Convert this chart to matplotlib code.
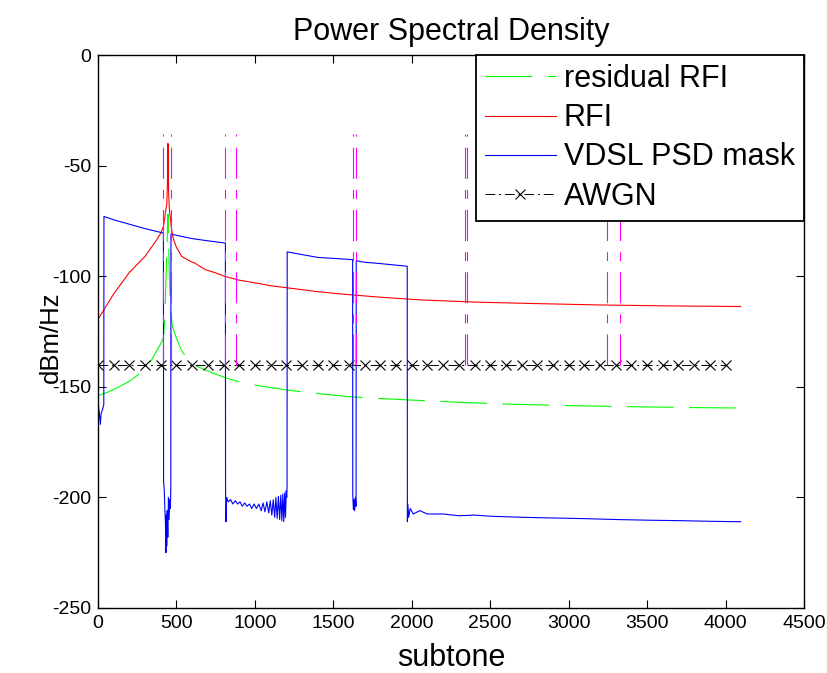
import matplotlib
matplotlib.use('Agg')
import matplotlib.pyplot as plt

plt.rcParams['font.family'] = ['Liberation Sans', 'DejaVu Sans']
plt.rcParams['axes.unicode_minus'] = False

# residual RFI (green)
res_subtone = [0, 60, 119, 200, 257, 300, 342, 380, 400, 417, 425, 432, 438, 442, 446,
               450, 455, 462, 474, 500, 529, 560, 597, 640, 682, 750, 830, 927, 1050,
               1192, 1300, 1479, 1600, 1800, 2000, 2300, 2600, 3000, 3400, 3800, 4096]
res_db = [-154, -152.5, -150.6, -147.5, -144.5, -141.5, -137.8, -133, -130.5, -128,
          -120, -105, -90, -80, -72, -85, -100, -115, -122.7, -128, -133.2, -136.5,
          -139.3, -141, -142.3, -144.3, -146.3, -148.3, -149.8, -151.3, -152.3,
          -153.6, -154.5, -155.3, -156, -157, -157.8, -158.5, -159, -159.4, -159.6]

# RFI (red)
rfi_subtone = [0, 100, 200, 300, 374, 400, 417, 425, 432, 438, 442, 445, 446, 447,
               450, 455, 460, 469, 480, 500, 533, 580, 618, 682, 750, 809, 900, 1000,
               1100, 1224, 1400, 1542, 1800, 2052, 2400, 2800, 3200, 3600, 4096]
rfi_db = [-119.5, -108, -98.3, -91, -83.6, -80.5, -77.5, -74, -70, -68, -60, -48,
          -40, -45, -62, -70, -73, -79, -83, -87, -91, -93, -94.1, -97, -98.5,
          -100.1, -101.8, -103, -104.3, -105.4, -107, -108, -109.5, -110.7, -111.7,
          -112.4, -113, -113.4, -113.7]

# VDSL PSD mask (blue)
mask_subtone = [0, 5, 10, 15, 20, 30, 37, 38, 100, 200, 300, 417,
                418, 422, 426, 430, 433, 435, 438, 441, 445, 449, 453, 457, 461, 464, 465,
                600, 700, 812,
                813, 816, 820, 830, 845, 860, 875, 890, 905, 920, 935, 950, 965, 980,
                995, 1010, 1025, 1040, 1052, 1064, 1076, 1088, 1098, 1108, 1117, 1126,
                1134, 1142, 1150, 1158, 1165, 1172, 1178, 1184, 1190, 1195, 1200, 1203,
                1205, 1206,
                1400, 1623, 1624, 1628, 1632, 1636, 1640, 1645, 1646,
                1700, 1800, 1900, 1971,
                1972, 1975, 1980, 1990, 2010, 2050, 2100, 2200, 2300, 2400, 2500,
                2700, 2900, 3100, 3300, 3500, 3700, 3900, 4096]
mask_db = [-158, -160, -163, -167, -162, -160, -158, -73, -74.5, -76.5, -78.5, -80.5,
           -193, -196, -205, -212, -225, -208, -222, -206, -218, -200, -210, -201, -205, -196, -81,
           -83, -84, -85,
           -196, -211, -200, -202, -201, -203, -201.5, -203, -202, -204, -202.5, -204,
           -203, -205, -203, -205, -203, -206, -202.5, -206.5, -202, -207, -201.5, -208,
           -201, -209, -200, -209.5, -199.5, -210, -199, -210.5, -198.5, -211, -198,
           -209, -197, -200, -195, -89,
           -91.5, -92.5, -199, -205.5, -201, -206, -200, -204, -93,
           -93.7, -94.3, -95, -95.5,
           -211, -203, -209, -205, -207.5, -206, -207.5, -207.5, -208.3, -208, -208.5,
           -209, -209.3, -209.6, -210, -210.3, -210.5, -210.8, -211]

# AWGN (black)
awgn_subtone = list(range(0, 4001, 100))
awgn_db = [-140] * len(awgn_subtone)

# HAM band edges (magenta)
ham_edges = [417, 464, 812, 881, 1623, 1646, 2342, 2354, 3246, 3328]
ham_top, ham_bottom = -35.5, -140

fig = plt.figure(figsize=(8.28, 6.73), dpi=100)
ax = fig.add_axes([98 / 828, 1 - 608 / 673, 706 / 828, 553 / 673])

ax.plot(res_subtone, res_db, color=(0, 1, 0), lw=0.8, linestyle=(0, (42, 14)),
        label='residual RFI')
ax.plot(rfi_subtone, rfi_db, color=(1, 0, 0), lw=0.8, label='RFI')
ax.plot(mask_subtone, mask_db, color=(0, 0, 1), lw=0.8, label='VDSL PSD mask')
ax.plot(awgn_subtone, awgn_db, color='k', lw=0.7, linestyle=(0, (10, 4, 2, 4)),
        marker='x', markersize=7, markeredgewidth=0.8, label='AWGN')
for f in ham_edges:
    ax.plot([f, f], [ham_bottom, ham_top], color=(1, 0, 1), lw=0.8,
            linestyle=(0, (28, 10, 8, 10)))

ax.set_xlim(0, 4500)
ax.set_ylim(-250, 0)
ax.set_xticks(range(0, 4501, 500))
ax.set_yticks(range(-250, 1, 50))
ax.tick_params(direction='in', top=True, right=True, length=6, width=0.8,
               labelsize=14, pad=5)
for s in ax.spines.values():
    s.set_linewidth(1.0)

ax.set_title('Power Spectral Density', fontsize=22, pad=11)
ax.set_xlabel('subtone', fontsize=22, labelpad=8)
ax.set_ylabel('dBm/Hz', fontsize=18.5)
ax.yaxis.set_label_coords(-0.05, 0.49)

leg = ax.legend(loc='upper right', bbox_to_anchor=(1, 1), borderaxespad=0,
                fontsize=22, fancybox=False, framealpha=1, edgecolor='k',
                handlelength=2.3, handletextpad=0.27, labelspacing=0.3,
                borderpad=0.3)
leg.get_frame().set_linewidth(1.3)
leg.set_zorder(10)

fig.savefig('out.png', dpi=100)
